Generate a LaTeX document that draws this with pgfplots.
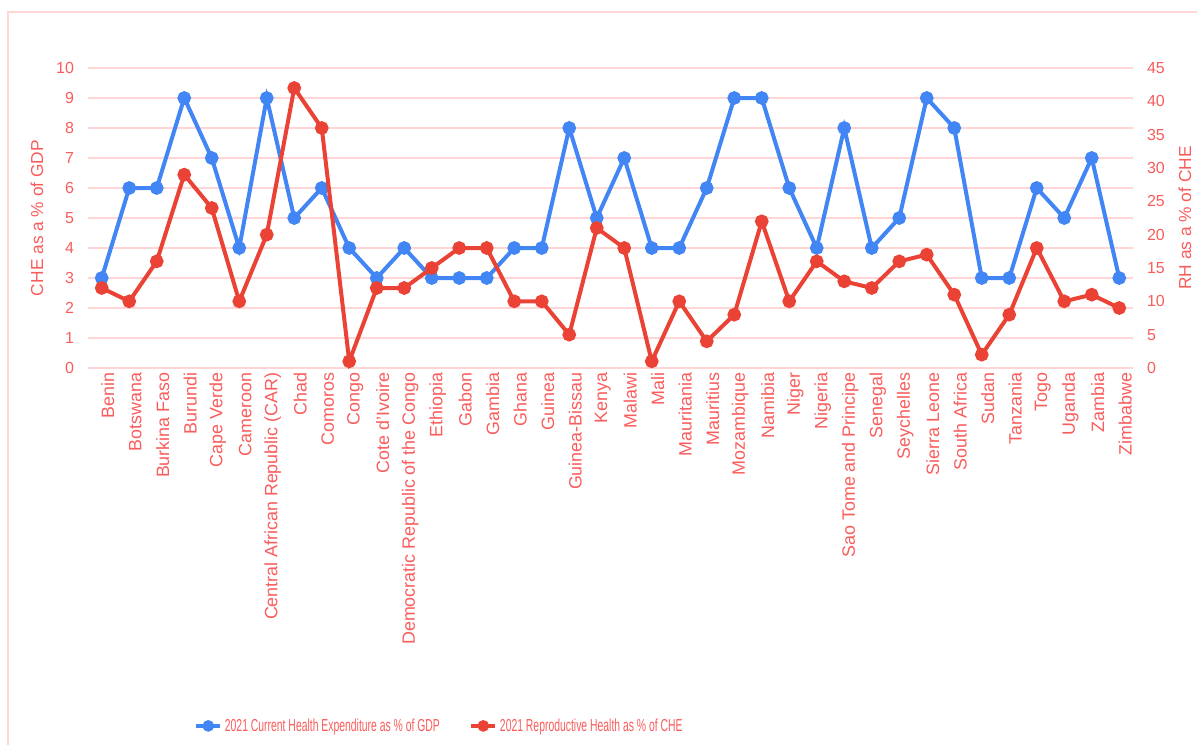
\documentclass[border=0pt]{standalone}
\usepackage{fontspec}
\setmainfont{Liberation Sans}
\newfontfamily\legfont[FakeStretch=0.6]{Liberation Sans}
\usepackage{pgfplots}
\usepackage{pgfplotstable}
\pgfplotsset{compat=1.18}
\definecolor{txt}{RGB}{250,92,92}
\definecolor{gridc}{RGB}{255,214,214}
\definecolor{cheblue}{RGB}{66,133,244}
\definecolor{rhred}{RGB}{234,67,53}

% idx: country position, che: CHE as % of GDP, rh: RH as % of CHE
\pgfplotstableread{
idx che rh
0 3 12
1 6 10
2 6 16
3 9 29
4 7 24
5 4 10
6 9 20
7 5 42
8 6 36
9 4 1
10 3 12
11 4 12
12 3 15
13 3 18
14 3 18
15 4 10
16 4 10
17 8 5
18 5 21
19 7 18
20 4 1
21 4 10
22 6 4
23 9 8
24 9 22
25 6 10
26 4 16
27 8 13
28 4 12
29 5 16
30 9 17
31 8 11
32 3 2
33 3 8
34 6 18
35 5 10
36 7 11
37 3 9
}\healthdata

\pgfplotsset{
  common/.style={
    at={(66pt,282pt)}, anchor=south west,
    scale only axis, width=783.75pt, height=225pt,
    xmin=-0.5, xmax=37.5,
    axis line style={draw=none},
    major tick length=0pt,
    /pgf/number format/assume math mode=true,
    ticklabel style={color=txt, font=\fontsize{12}{14}\selectfont},
    label style={color=txt, font=\fontsize{13}{15}\selectfont},
  },
  series/.style={line width=3pt, mark=*, mark size=3.6pt, color=#1,
    mark options={solid, fill=#1}},
}

\begin{document}
\begin{tikzpicture}
\useasboundingbox (0,0) rectangle (897.75pt,558pt);
\draw[gridc, line width=1.1pt] (6pt,-2pt) -- (6pt,549pt) -- (900pt,549pt);

\begin{axis}[
  common,
  ymin=0, ymax=10,
  ytick={0,1,...,10},
  ymajorgrids,
  grid style={gridc, line width=1.1pt},
  yticklabel style={xshift=-7pt},
  xtick={0,1,...,37},
  xticklabels={Benin, Botswana, Burkina Faso, Burundi, Cape Verde, Cameroon,
    Central African Republic (CAR), Chad, Comoros, Congo, Cote d’Ivoire,
    Democratic Republic of the Congo, Ethiopia, Gabon, Gambia, Ghana, Guinea,
    Guinea-Bissau, Kenya, Malawi, Mali, Mauritania, Mauritius, Mozambique,
    Namibia, Niger, Nigeria, Sao Tome and Principe, Senegal, Seychelles,
    Sierra Leone, South Africa, Sudan, Tanzania, Togo, Uganda, Zambia, Zimbabwe},
  xticklabel style={rotate=90, anchor=east, yshift=-4.5pt,
    font=\fontsize{13.4}{15}\selectfont},
  ylabel={CHE as a \% of GDP},
  ylabel style={at={(axis description cs:-0.0488,0.5)}, anchor=center},
]
\addplot[series=cheblue] table[x=idx, y=che] {\healthdata};
\end{axis}

\begin{axis}[
  common,
  ymin=0, ymax=45,
  ytick={0,5,...,45},
  axis y line*=right,
  axis x line=none,
  yticklabel style={xshift=7pt},
  ylabel={RH as a \% of CHE},
  ylabel style={at={(axis description cs:1.0498,0.5)}, anchor=center, rotate=0},
  legend columns=2,
  legend style={at={(axis description cs:0.0976,-1.193)}, anchor=west,
    draw=none, fill=none, text=txt,
    font=\legfont\fontsize{13}{15}\selectfont,
    /tikz/every even column/.append style={column sep=20pt}},
  legend image code/.code={
    \draw[mark repeat=2, mark phase=2, mark size=2.8pt, #1]
      plot coordinates {(0pt,0pt) (9pt,0pt) (18pt,0pt)};},
]
\addlegendimage{series=cheblue}
\addlegendentry{2021 Current Health Expenditure as \% of GDP}
\addplot[series=rhred] table[x=idx, y=rh] {\healthdata};
\addlegendentry{2021 Reproductive Health as \% of CHE}
\end{axis}
\end{tikzpicture}
\end{document}
